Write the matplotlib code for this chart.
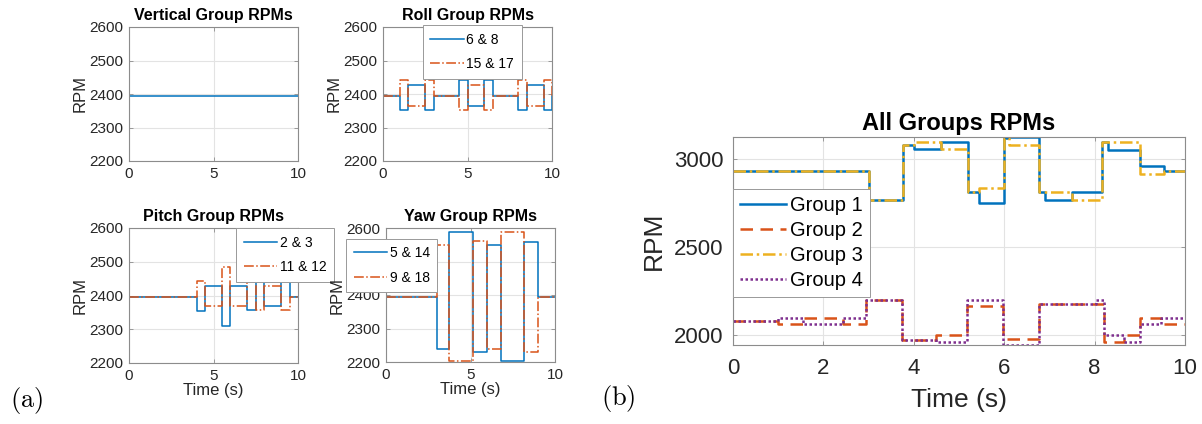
import matplotlib; matplotlib.use('Agg')
import matplotlib.pyplot as plt

plt.rcParams['font.family'] = ['Liberation Sans', 'DejaVu Sans']
plt.rcParams['mathtext.fontset'] = 'cm'

BLUE = '#0072BD'; ORANGE = '#D95319'; YELLOW = '#EDB120'; PURPLE = '#7E2F8E'
EDGE = '#8c8c8c'; GRID = '#e3e3e3'; TXT = '#262626'

# ---- panel (a): per-group RPMs ----
vert_t = [0, 10]
vert_a = [2395, 2395]

roll_t = [0, 1, 1.5, 2.5, 3, 4.5, 5, 6, 6.5, 8, 8.5, 9.5, 10]
roll_a = [2395, 2351, 2428, 2351, 2395, 2441, 2364, 2441, 2395, 2351, 2428, 2351, 2395]
roll_b = [2395, 2441, 2364, 2441, 2395, 2351, 2428, 2351, 2395, 2441, 2364, 2441, 2395]

pitch_t = [0, 4, 4.5, 5.5, 6, 7, 7.5, 8, 9, 9.5, 10]
pitch_a = [2395, 2354, 2428, 2311, 2428, 2356, 2443, 2369, 2443, 2395, 2395]
pitch_b = [2395, 2443, 2369, 2485, 2369, 2443, 2356, 2428, 2356, 2395, 2395]

yaw_t = [0, 3, 3.75, 5.15, 6, 6.8, 8.15, 9, 10]
yaw_a = [2395, 2240, 2587, 2230, 2550, 2202, 2558, 2395, 2395]
yaw_b = [2395, 2550, 2202, 2560, 2240, 2587, 2230, 2395, 2395]

# ---- panel (b): all groups ----
top_t = [0, 3.0, 3.75, 4.0, 4.6, 5.2, 5.45, 6.0, 6.1, 6.76, 6.91, 7.5, 8.17, 8.3, 9.0, 9.54, 10]
g1 = [2933, 2767, 3080, 3058, 3100, 2816, 2750, 3120, 3128, 2816, 2769, 2816, 3100, 3053, 2960, 2935, 2935]
g3 = [2933, 2767, 3080, 3100, 3058, 2816, 2839, 3120, 3081, 2816, 2816, 2769, 3100, 3100, 2915, 2935, 2935]
g2_t = [0, 1.0, 1.54, 2.43, 2.95, 3.73, 4.5, 5.18, 5.98, 6.76, 8.2, 8.65, 9.0, 9.47, 10]
g2 = [2076, 2062, 2095, 2062, 2195, 1972, 2000, 2161, 1977, 2176, 1958, 1996, 2095, 2061, 2061]
g4_t = [0, 1.0, 1.54, 2.43, 2.95, 3.73, 4.5, 5.18, 5.98, 6.76, 8.02, 8.2, 8.65, 9.0, 9.47, 10]
g4 = [2076, 2095, 2062, 2095, 2195, 1972, 1958, 2195, 1940, 2176, 2199, 1996, 1958, 2061, 2095, 2095]

W, H = 1202, 424
fig = plt.figure(figsize=(W/100, H/100), dpi=100)

def rect(l, t, r, b):
    return [l/W, 1 - b/H, (r - l)/W, (b - t)/H]

def style(ax, fs, pad):
    for s in ax.spines.values():
        s.set_color(EDGE); s.set_linewidth(0.8)
    ax.tick_params(direction='in', top=True, right=True, labelsize=fs,
                   colors=EDGE, labelcolor=TXT, length=3, width=0.6, pad=pad)
    ax.grid(True, color=GRID, lw=0.8)
    ax.set_axisbelow(True)

def small(l, t, r, b, title, tt, a, bb=None, labels=None, xlabel=False, leg=None):
    ax = fig.add_axes(rect(l, t, r, b))
    ax.step(tt, a, where='post', color=BLUE, lw=1.1, label=labels[0] if labels else None)
    if bb is not None:
        ax.step(tt, bb, where='post', color=ORANGE, lw=1.1, ls='-.', label=labels[1])
    ax.set_xlim(0, 10); ax.set_ylim(2200, 2600)
    ax.set_xticks([0, 5, 10]); ax.set_yticks(range(2200, 2601, 100))
    style(ax, 11, 4)
    ax.set_title(title, fontsize=11.5, fontweight='bold', pad=5)
    ax.set_ylabel('RPM', fontsize=12, color=TXT, labelpad=1)
    if xlabel:
        ax.set_xlabel('Time (s)', fontsize=12, color=TXT, labelpad=0)
    if leg:
        lg = ax.legend(loc='upper left', bbox_to_anchor=leg, fontsize=10, fancybox=False,
                       edgecolor='#999999', framealpha=1, handlelength=2.4,
                       borderpad=0.55, labelspacing=0.75, handletextpad=0.2,
                       borderaxespad=0)
        lg.get_frame().set_linewidth(0.7)
        lg.set_zorder(10)
    return ax

small(129, 27, 298, 161, 'Vertical Group RPMs', vert_t, vert_a)
small(383, 27, 552, 161, 'Roll Group RPMs', roll_t, roll_a, roll_b,
      ['6 & 8', '15 & 17'], leg=(0.235, 1.013))
small(129, 228, 298, 363, 'Pitch Group RPMs', pitch_t, pitch_a, pitch_b,
      ['2 & 3', '11 & 12'], xlabel=True, leg=(0.633, 1.0))
small(386, 228, 555, 362, 'Yaw Group RPMs', yaw_t, yaw_a, yaw_b,
      ['5 & 14', '9 & 18'], xlabel=True, leg=(-0.237, 0.92))

# big panel
ax = fig.add_axes(rect(733, 137, 1185, 345))
ax.step(top_t, g1, where='post', color=BLUE, lw=1.8, label='Group 1')
ax.step(g2_t, g2, where='post', color=ORANGE, lw=1.8, ls=(0, (5, 3)), label='Group 2')
ax.step(top_t, g3, where='post', color=YELLOW, lw=1.8, ls=(0, (5, 1.5, 1, 1.5)), label='Group 3')
ax.step(g4_t, g4, where='post', color=PURPLE, lw=1.8, ls=(0, (1, 1)), label='Group 4')
ax.set_xlim(0, 10); ax.set_ylim(1941, 3128)
ax.set_xticks(range(0, 11, 2)); ax.set_yticks([2000, 2500, 3000])
style(ax, 16, 9)
ax.tick_params(axis='y', pad=7)
ax.set_title('All Groups RPMs', fontsize=17, fontweight='bold', pad=5)
ax.set_ylabel('RPM', fontsize=19, color=TXT, labelpad=6)
ax.set_xlabel('Time (s)', fontsize=19, color=TXT, labelpad=7)
lg = ax.legend(loc='upper left', bbox_to_anchor=(0.0, 0.752), fontsize=14.5, fancybox=False,
               edgecolor='#999999', framealpha=1, handlelength=2.3,
               borderpad=0.35, labelspacing=0.3, handletextpad=0.2, borderaxespad=0)
lg.get_frame().set_linewidth(0.7)

fig.text(27/W, 1 - 400/H, r'$(\mathrm{a})$', fontsize=19, ha='center', va='center')
fig.text(618/W, 1 - 398/H, r'$(\mathrm{b})$', fontsize=19, ha='center', va='center')

plt.savefig('out.png', dpi=100)
